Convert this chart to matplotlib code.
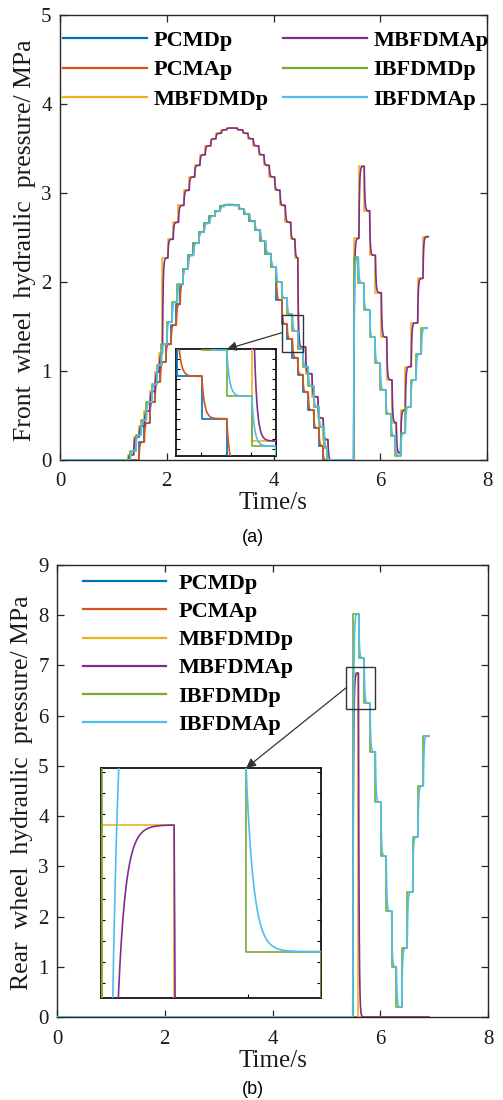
import numpy as np
import matplotlib
matplotlib.use('Agg')
import matplotlib.pyplot as plt
from matplotlib.patches import Rectangle, ConnectionPatch
from matplotlib.lines import Line2D
from matplotlib.ticker import MultipleLocator

plt.rcParams['font.family'] = ['Liberation Serif', 'DejaVu Serif']

SERIES_NAMES = ['PCMDp', 'PCMAp', 'MBFDMDp', 'MBFDMAp', 'IBFDMDp', 'IBFDMAp']
SERIES_COLORS = ['#0072BD', '#D95319', '#EDB120', '#7E2F8E', '#77AC30', '#4DBEEE']

# Front wheel pressure commands (step times in s, levels in MPa)
FRONT_PCM_T = [0, 1.48, 1.58, 1.68, 1.78, 1.88, 1.98, 2.08, 2.18, 2.25, 2.3, 2.4, 2.5,
               2.6, 2.7, 2.8, 2.9, 3.0, 3.08, 3.25, 3.35, 3.45, 3.55, 3.65, 3.75, 3.85,
               3.95, 4.05, 4.155, 4.255, 4.355, 4.45, 4.55, 4.65, 4.75, 4.85, 4.92]
FRONT_PCM_P = [0, 0.2, 0.42, 0.65, 0.88, 1.1, 1.3, 1.52, 1.75, 1.98, 2.15, 2.3, 2.44,
               2.56, 2.66, 2.74, 2.8, 2.85, 2.87, 2.86, 2.82, 2.76, 2.68, 2.58, 2.46, 2.32,
               2.17, 1.8, 1.53, 1.36, 1.15, 0.96, 0.76, 0.56, 0.36, 0.16, 0]
FRONT_PCM_END = 5.45

FRONT_MBFD_T = [0, 1.28, 1.38, 1.48, 1.58, 1.68, 1.78, 1.86, 1.92, 2.02, 2.12, 2.22, 2.32,
                2.42, 2.52, 2.62, 2.72, 2.82, 2.92, 3.02, 3.12, 3.22, 3.32, 3.42, 3.52,
                3.62, 3.72, 3.82, 3.92, 4.02, 4.12, 4.22, 4.32, 4.40, 4.455, 4.6, 4.72,
                4.83, 4.93, 5.02, 5.5, 5.6, 5.7, 5.8, 5.91, 6.02, 6.12, 6.22, 6.3, 6.38,
                6.47, 6.58, 6.7, 6.8]
FRONT_MBFD_P = [0, 0.06, 0.26, 0.38, 0.55, 0.77, 0.99, 1.2, 2.27, 2.48, 2.67, 2.86, 3.03,
                3.18, 3.31, 3.43, 3.53, 3.61, 3.67, 3.71, 3.73, 3.73, 3.71, 3.67, 3.61,
                3.53, 3.43, 3.31, 3.18, 3.03, 2.86, 2.67, 2.48, 2.27, 1.27, 0.97, 0.71,
                0.47, 0.23, 0, 2.49, 3.3, 2.8, 2.3, 1.88, 1.38, 0.9, 0.42, 0.08, 0.56,
                1.05, 1.54, 2.04, 2.51]
FRONT_MBFD_END = 6.9

FRONT_IBFD_T = [0, 1.32, 1.42, 1.52, 1.62, 1.72, 1.81, 1.9, 2.0, 2.1, 2.2, 2.3, 2.4, 2.5,
                2.6, 2.7, 2.8, 2.9, 3.0, 3.08, 3.25, 3.35, 3.45, 3.55, 3.65, 3.75, 3.85,
                3.95, 4.05, 4.15, 4.255, 4.355, 4.455, 4.55, 4.65, 4.75, 4.85, 4.95, 5.0,
                5.5, 5.59, 5.69, 5.8, 5.9, 6.0, 6.1, 6.2, 6.28, 6.38, 6.47, 6.57, 6.67, 6.77]
FRONT_IBFD_P = [0, 0.1, 0.28, 0.45, 0.65, 0.85, 1.07, 1.3, 1.55, 1.78, 1.98, 2.15, 2.3, 2.44,
                2.56, 2.66, 2.74, 2.8, 2.85, 2.87, 2.86, 2.82, 2.76, 2.68, 2.58, 2.46, 2.32,
                2.17, 2.0, 1.82, 1.635, 1.45, 1.25, 1.05, 0.83, 0.6, 0.37, 0.14, 0,
                2.28, 1.99, 1.69, 1.38, 1.09, 0.79, 0.52, 0.27, 0.05, 0.3, 0.6, 0.9, 1.19, 1.48]
FRONT_IBFD_END = 6.88

# Rear wheel pressure commands
REAR_PCM_T = [0]
REAR_PCM_P = [0]
REAR_PCM_END = 6.9

REAR_MBFD_T = [0, 5.49, 5.595]
REAR_MBFD_P = [0, 6.85, 0]
REAR_MBFD_END = 6.9

REAR_IBFD_T = [0, 5.49, 5.6, 5.7, 5.81, 5.91, 6.01, 6.11, 6.21, 6.3, 6.4, 6.5, 6.6, 6.7, 6.8]
REAR_IBFD_P = [0, 8.03, 7.15, 6.25, 5.28, 4.28, 3.2, 2.11, 1.0, 0.2, 1.37, 2.49, 3.59, 4.6, 5.6]
REAR_IBFD_END = 6.9

# actual pressure follows the command with a first order lag
TAU = 0.011
DT = 0.0005

LINE_W = 1.2
AXIS_COLOR = '#262626'
BOX_COLOR = '#333333'


def StepLine(ts, ps, tEnd):
    x = list(ts) + [tEnd]
    y = list(ps) + [ps[-1]]
    return x, y


def LagLine(ts, ps, tEnd, tau):
    t = np.append(np.arange(0, tEnd, DT), tEnd)
    out = np.zeros_like(t)
    bounds = list(ts) + [tEnd + DT]
    a0 = ps[0]
    for i in range(len(ts)):
        m = (t >= bounds[i]) & (t < bounds[i + 1])
        out[m] = ps[i] + (a0 - ps[i]) * np.exp(-(t[m] - bounds[i]) / tau)
        a0 = ps[i] + (a0 - ps[i]) * np.exp(-(bounds[i + 1] - bounds[i]) / tau)
    return t, out


def DrawSeries(ax, systems):
    k = 0
    for ts, ps, tEnd in systems:
        x, y = StepLine(ts, ps, tEnd)
        ax.plot(x, y, drawstyle='steps-post', color=SERIES_COLORS[k], lw=LINE_W, zorder=3)
        xa, ya = LagLine(ts, ps, tEnd, TAU)
        ax.plot(xa, ya, color=SERIES_COLORS[k + 1], lw=LINE_W, zorder=3)
        k += 2


def StyleMain(ax, ymax):
    ax.set_xlim(0, 8)
    ax.set_ylim(0, ymax)
    ax.set_xticks([0, 2, 4, 6, 8])
    ax.yaxis.set_major_locator(MultipleLocator(1))
    ax.tick_params(direction='in', top=True, right=True, length=5, width=0.9,
                   color=AXIS_COLOR, labelsize=15, labelcolor='#1a1a1a')
    ax.tick_params(axis='x', pad=9)
    ax.tick_params(axis='y', pad=6)
    for s in ax.spines.values():
        s.set_color(AXIS_COLOR)
        s.set_linewidth(1.0)


def MakeInset(fig, rect, systems, xlim, ylim, yStep, nx):
    axin = fig.add_axes(rect)
    DrawSeries(axin, systems)
    axin.set_xlim(*xlim)
    axin.set_ylim(*ylim)
    axin.set_xticks(np.linspace(xlim[0], xlim[1], nx + 1)[1:-1])
    axin.yaxis.set_major_locator(MultipleLocator(yStep))
    axin.tick_params(direction='in', left=True, right=True, bottom=True, top=False,
                     length=3, width=0.8, labelleft=False, labelbottom=False)
    for s in axin.spines.values():
        s.set_color('#111111')
        s.set_linewidth(1.3)
    return axin


def AddZoom(fig, ax, axin, box, start, tipX):
    ax.add_patch(Rectangle((box[0], box[1]), box[2], box[3], fill=False,
                           ec=BOX_COLOR, lw=1.0, zorder=5))
    con = ConnectionPatch(xyA=start, coordsA=ax.transData, xyB=(tipX, 1.0),
                          coordsB=axin.transAxes, arrowstyle='-|>', color=BOX_COLOR,
                          lw=0.9, mutation_scale=14, shrinkA=0, shrinkB=0)
    fig.add_artist(con)


def main():
    fig = plt.figure(figsize=(5.03, 11.0), dpi=100)
    W, H = 503.0, 1100.0

    front = [(FRONT_PCM_T, FRONT_PCM_P, FRONT_PCM_END),
             (FRONT_MBFD_T, FRONT_MBFD_P, FRONT_MBFD_END),
             (FRONT_IBFD_T, FRONT_IBFD_P, FRONT_IBFD_END)]
    rear = [(REAR_PCM_T, REAR_PCM_P, REAR_PCM_END),
            (REAR_MBFD_T, REAR_MBFD_P, REAR_MBFD_END),
            (REAR_IBFD_T, REAR_IBFD_P, REAR_IBFD_END)]

    handles = [Line2D([], [], color=c, lw=1.6) for c in SERIES_COLORS]
    legFont = dict(family='Liberation Serif', weight='bold', size=16)

    # (a) front wheel
    ax1 = fig.add_axes([60 / W, 1 - 460 / H, 427 / W, 445 / H])
    DrawSeries(ax1, front)
    StyleMain(ax1, 5)
    ax1.legend(handles, SERIES_NAMES, ncol=2, loc='upper left', bbox_to_anchor=(0.007, 0.965),
               frameon=False, prop=legFont, handlelength=3.8, handletextpad=0.27,
               columnspacing=0.65, labelspacing=0.39, borderpad=0, borderaxespad=0)
    in1 = MakeInset(fig, [176 / W, 1 - 456 / H, 100 / W, 107 / H], front,
                    (4.152, 4.552), (1.21, 1.64), 0.04, 4)
    AddZoom(fig, ax1, in1, (4.157, 1.217, 0.396, 0.413), (4.157, 1.43), 0.51)

    fig.text(25 / W, 1 - 240 / H, 'Front  wheel  hydraulic  pressure/ MPa', rotation=90,
             ha='center', va='center', fontsize=18.5, color='#1a1a1a')
    fig.text(273 / W, 1 - 503 / H, 'Time/s', ha='center', va='center', fontsize=18,
             color='#1a1a1a')
    fig.text(253 / W, 1 - 537 / H, '(a)', ha='center', va='center', fontsize=13,
             family='Liberation Sans')

    # (b) rear wheel
    ax2 = fig.add_axes([57 / W, 1 - 1017 / H, 431 / W, 452 / H])
    DrawSeries(ax2, rear)
    StyleMain(ax2, 9)
    ax2.legend(handles, SERIES_NAMES, ncol=1, loc='upper left', bbox_to_anchor=(0.060, 0.981),
               frameon=False, prop=legFont, handlelength=3.75, handletextpad=0.54,
               labelspacing=0.34, borderpad=0, borderaxespad=0)
    in2 = MakeInset(fig, [101 / W, 1 - 998 / H, 220 / W, 230 / H], rear,
                    (5.488, 5.81), (6.03, 7.12), 0.1, 3)
    AddZoom(fig, ax2, in2, (5.36, 6.13, 0.54, 0.84), (5.36, 6.55), 0.66)

    fig.text(22 / W, 1 - 793 / H, 'Rear  wheel  hydraulic  pressure/ MPa', rotation=90,
             ha='center', va='center', fontsize=18.5, color='#1a1a1a')
    fig.text(273 / W, 1 - 1061 / H, 'Time/s', ha='center', va='center', fontsize=18,
             color='#1a1a1a')
    fig.text(253 / W, 1 - 1089 / H, '(b)', ha='center', va='center', fontsize=13,
             family='Liberation Sans')

    fig.savefig('out.png', dpi=100)


if __name__ == "__main__":
    main()
